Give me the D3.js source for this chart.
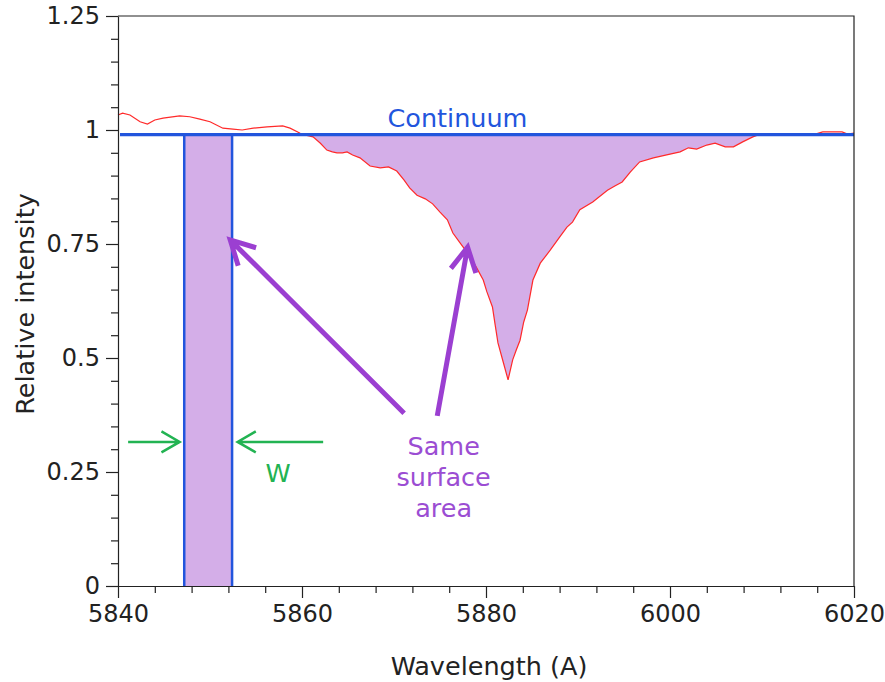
<!DOCTYPE html>
<html>
<head>
<meta charset="utf-8">
<script src="https://cdn.jsdelivr.net/npm/d3@7/dist/d3.min.js"></script>
<style>
  html, body { margin: 0; padding: 0; background: #fff; }
  svg { display: block; font-family: "DejaVu Sans", sans-serif; }
</style>
</head>
<body>
<svg id="chart" width="885" height="682"></svg>
<script>
// ---------- data ----------
const wavelength = [5840.0,5840.5,5841.3,5842.4,5843.2,5844.0,5844.9,5846.7,5847.8,5848.9,5850.0,5851.4,5852.5,5853.5,5854.7,5856.2,5857.9,5858.7,5859.8,5860.3,5861.2,5862.0,5862.7,5863.3,5863.8,5864.4,5864.9,5865.5,5866.3,5867.4,5868.5,5869.4,5870.3,5871.1,5871.7,5872.5,5873.4,5874.2,5875.0,5875.8,5876.4,5877.2,5877.6,5877.9,5878.5,5879.0,5879.7,5880.1,5880.7,5881.0,5881.3,5881.9,5882.4,5882.9,5883.3,5883.7,5884.1,5884.5,5885.1,5885.9,5887.0,5888.0,5888.8,5889.4,5890.2,5891.6,5893.2,5894.0,5894.8,5895.7,5896.7,5898.2,5900.0,5901.1,5902.0,5902.9,5904.0,5904.9,5906.0,5906.9,5907.9,5909.0,5909.8,5912.0,5914.1,5915.8,5916.6,5918.7,5919.3,5920.0];
const intensity  = [1.033,1.037,1.033,1.018,1.013,1.022,1.026,1.031,1.029,1.024,1.018,1.004,1.002,1.000,1.004,1.007,1.009,1.004,0.993,0.989,0.985,0.971,0.956,0.952,0.950,0.950,0.952,0.945,0.939,0.921,0.917,0.919,0.910,0.890,0.873,0.857,0.849,0.838,0.820,0.803,0.774,0.752,0.741,0.732,0.715,0.697,0.671,0.645,0.612,0.572,0.533,0.489,0.452,0.496,0.518,0.539,0.579,0.605,0.671,0.708,0.737,0.765,0.787,0.798,0.825,0.842,0.868,0.877,0.886,0.908,0.930,0.939,0.947,0.952,0.961,0.958,0.967,0.971,0.963,0.963,0.974,0.985,0.991,0.991,0.991,0.991,0.996,0.996,0.991,0.993];

const continuumLevel = 0.99;
const equivalentWidthBand = [5847.2, 5852.4];

const xTickValues = [5840, 5860, 5880, 5900, 5920];
const xTickLabels = ["5840", "5860", "5880", "6000", "6020"];
const xMinorStep = 4;
const yTickValues = [0, 0.25, 0.5, 0.75, 1, 1.25];
const yTickLabels = ["0", "0.25", "0.5", "0.75", "1", "1.25"];
const yMinorStep = 0.05;

const xTitle = "Wavelength (A)";
const yTitle = "Relative intensity";
const continuumLabel = "Continuum";
const areaLabel = ["Same", "surface", "area"];
const widthLabel = "W";

// annotation anchors (data units)
const arrowsPurple = [
  { from: [5871.1, 0.379], to: [5852.2, 0.759] },
  { from: [5874.7, 0.373], to: [5878.0, 0.743] }
];
const arrowsGreen = [
  { from: [5841.1, 0.316], to: [5846.7, 0.316] },
  { from: [5862.3, 0.316], to: [5853.0, 0.316] }
];
const continuumLabelAt = [5876.9, 1.026];
const areaLabelAt = [5875.4, 0.239];
const widthLabelAt = [5857.4, 0.248];

// ---------- drawing ----------
const svg = d3.select("#chart");
const mLeft = 118, mRight = 854, mTop = 16, mBottom = 586;

const x = d3.scaleLinear().domain([5840, 5920]).range([mLeft, mRight]);
const y = d3.scaleLinear().domain([0, 1.25]).range([mBottom, mTop]);

const data = wavelength.map((w, i) => ({ w, v: intensity[i] }));

const fillColor = "#d4aee8";
const blue = "#2255dd";
const purple = "#9b3fd1";
const green = "#22b352";
const axisColor = "#222";
const tickFont = 24;
const textFont = 25.5;

// absorption area between continuum and spectrum
svg.append("path")
  .datum(data)
  .attr("fill", fillColor)
  .attr("d", d3.area()
    .x(d => x(d.w))
    .y0(() => y(continuumLevel))
    .y1(d => y(Math.min(d.v, continuumLevel))));

// equivalent width rectangle
svg.append("rect")
  .attr("x", x(equivalentWidthBand[0]))
  .attr("y", y(continuumLevel))
  .attr("width", x(equivalentWidthBand[1]) - x(equivalentWidthBand[0]))
  .attr("height", y(0) - y(continuumLevel))
  .attr("fill", fillColor);

equivalentWidthBand.forEach(w => {
  svg.append("line")
    .attr("x1", x(w)).attr("x2", x(w))
    .attr("y1", y(continuumLevel)).attr("y2", y(0))
    .attr("stroke", blue).attr("stroke-width", 2.5);
});

// spectrum
svg.append("path")
  .datum(data)
  .attr("fill", "none")
  .attr("stroke", "#ff2a2a")
  .attr("stroke-width", 1.2)
  .attr("d", d3.line().x(d => x(d.w)).y(d => y(d.v)));

// continuum line
svg.append("line")
  .attr("x1", x(5840) + 2).attr("x2", x(5920))
  .attr("y1", y(continuumLevel)).attr("y2", y(continuumLevel))
  .attr("stroke", blue).attr("stroke-width", 3.2);

// frame (top & right)
svg.append("path")
  .attr("d", `M${mLeft},${mTop}H${mRight}V${mBottom}`)
  .attr("fill", "none").attr("stroke", axisColor).attr("stroke-width", 1.2);

// minor ticks
const xMinor = d3.range(5840, 5920 + 0.001, xMinorStep).filter(v => !xTickValues.includes(v));
const yMinor = d3.range(0, 1.25 + 1e-9, yMinorStep).map(v => +v.toFixed(2)).filter(v => !yTickValues.includes(v));

svg.append("g")
  .attr("transform", `translate(0,${mBottom})`)
  .call(d3.axisBottom(x).tickValues(xMinor).tickSize(7).tickFormat(""))
  .call(g => g.select(".domain").remove())
  .call(g => g.selectAll("line").attr("stroke", axisColor).attr("stroke-width", 1.2));

svg.append("g")
  .attr("transform", `translate(${mLeft},0)`)
  .call(d3.axisLeft(y).tickValues(yMinor).tickSize(7).tickFormat(""))
  .call(g => g.select(".domain").remove())
  .call(g => g.selectAll("line").attr("stroke", axisColor).attr("stroke-width", 1.2));

// major axes
const xAxis = svg.append("g")
  .attr("transform", `translate(0,${mBottom})`)
  .call(d3.axisBottom(x).tickValues(xTickValues).tickSize(12).tickSizeOuter(0)
    .tickPadding(7).tickFormat((d, i) => xTickLabels[i]));
xAxis.select(".domain").attr("d", `M${mLeft - 12},0.5H${mRight}`);

const yAxis = svg.append("g")
  .attr("transform", `translate(${mLeft},0)`)
  .call(d3.axisLeft(y).tickValues(yTickValues).tickSize(12).tickSizeOuter(0)
    .tickPadding(6).tickFormat((d, i) => yTickLabels[i]));

[xAxis, yAxis].forEach(g => {
  g.selectAll("path, line").attr("stroke", axisColor).attr("stroke-width", 1.2);
  g.selectAll("text").attr("fill", axisColor).attr("font-size", tickFont)
    .attr("font-family", "DejaVu Sans, sans-serif");
});

// axis titles
svg.append("text")
  .attr("x", (mLeft + mRight) / 2 + 3).attr("y", 675)
  .attr("text-anchor", "middle").attr("font-size", textFont).attr("fill", axisColor)
  .text(xTitle);

svg.append("text")
  .attr("transform", `translate(34,${(mTop + mBottom) / 2 + 3}) rotate(-90)`)
  .attr("text-anchor", "middle").attr("font-size", textFont).attr("fill", axisColor)
  .text(yTitle);

// continuum label
svg.append("text")
  .attr("x", x(continuumLabelAt[0])).attr("y", y(continuumLabelAt[1]))
  .attr("dy", "0.35em")
  .attr("text-anchor", "middle").attr("font-size", textFont).attr("fill", blue)
  .text(continuumLabel);

// arrows helper
function arrow(a, color, width, headLen, headAngle) {
  const x1 = x(a.from[0]), y1 = y(a.from[1]), x2 = x(a.to[0]), y2 = y(a.to[1]);
  const ang = Math.atan2(y1 - y2, x1 - x2);
  const h1 = [x2 + headLen * Math.cos(ang + headAngle), y2 + headLen * Math.sin(ang + headAngle)];
  const h2 = [x2 + headLen * Math.cos(ang - headAngle), y2 + headLen * Math.sin(ang - headAngle)];
  svg.append("path")
    .attr("d", `M${x1},${y1}L${x2},${y2}M${h1[0]},${h1[1]}L${x2},${y2}L${h2[0]},${h2[1]}`)
    .attr("fill", "none").attr("stroke", color).attr("stroke-width", width)
    .attr("stroke-linecap", "butt").attr("stroke-linejoin", "miter");
}
arrowsPurple.forEach(a => arrow(a, purple, 5, 27, 28 * Math.PI / 180));
arrowsGreen.forEach(a => arrow(a, green, 2.5, 21, 30 * Math.PI / 180));

// labels
const areaText = svg.append("text")
  .attr("text-anchor", "middle").attr("font-size", textFont).attr("fill", "#9b4dd3");
areaLabel.forEach((t, i) => {
  areaText.append("tspan")
    .attr("x", x(areaLabelAt[0]))
    .attr("y", y(areaLabelAt[1]) + (i - 1) * 31)
    .attr("dy", "0.35em")
    .text(t);
});

svg.append("text")
  .attr("x", x(widthLabelAt[0])).attr("y", y(widthLabelAt[1]))
  .attr("dy", "0.35em")
  .attr("text-anchor", "middle").attr("font-size", textFont).attr("fill", green)
  .text(widthLabel);
</script>
</body>
</html>
